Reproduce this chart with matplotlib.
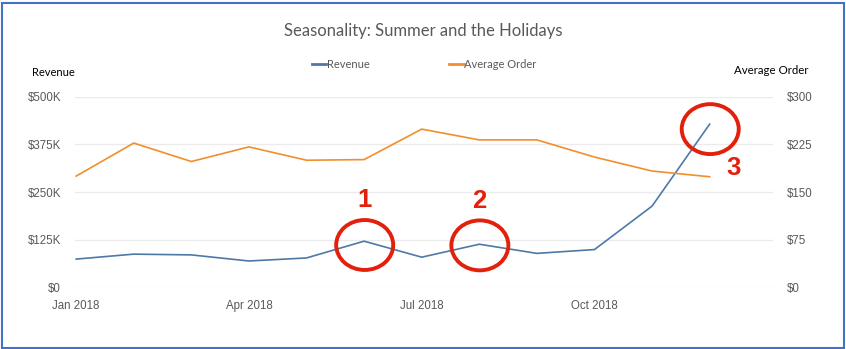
import matplotlib
matplotlib.use("Agg")
import matplotlib.pyplot as plt
from matplotlib.patches import Ellipse, Rectangle
from matplotlib.lines import Line2D

months = ["Jan 2018", "Feb 2018", "Mar 2018", "Apr 2018", "May 2018", "Jun 2018",
          "Jul 2018", "Aug 2018", "Sep 2018", "Oct 2018", "Nov 2018", "Dec 2018"]
revenue_k = [74, 87, 85, 69, 77, 121, 79, 113, 89, 99, 213, 428]
avg_order = [175, 227, 198, 221, 200, 201, 249, 232, 232, 205, 183, 174]

rev_ticks = [0, 125, 250, 375, 500]
rev_tick_labels = ["$0", "$125K", "$250K", "$375K", "$500K"]
order_ticks = [0, 75, 150, 225, 300]
order_tick_labels = ["$0", "$75", "$150", "$225", "$300"]
x_tick_idx = [0, 3, 6, 9]

# highlighted months: (label, month index, revenue level of the ring, label level, label shift)
callouts = [("1", 5, 111, 229, 0.0), ("2", 7, 110, 227, 0.0), ("3", 11, 415, 312, 0.42)]

BLUE = "#4e79a7"
ORANGE = "#f28e2b"
RED = "#e2200c"
GRID = "#ebebeb"
TXT = "#595959"

W, H = 846, 349
fig = plt.figure(figsize=(W / 100, H / 100), dpi=100)
fig.patch.set_facecolor("white")

ax = fig.add_axes([75 / W, 1 - 287.3 / H, (773 - 75) / W, (287.3 - 96.7) / H])
ax2 = ax.twinx()

x = list(range(len(months)))
ax.plot(x, revenue_k, color=BLUE, lw=1.2, solid_joinstyle="miter", zorder=3)
ax2.plot(x, avg_order, color=ORANGE, lw=1.2, solid_joinstyle="miter", zorder=3)

ax.set_xlim(-0.02, 12.1)
ax.set_ylim(0, 500)
ax2.set_ylim(0, 300)

ax.set_yticks(rev_ticks, rev_tick_labels)
ax2.set_yticks(order_ticks, order_tick_labels)
ax.set_xticks(x_tick_idx, [months[i] for i in x_tick_idx])

for a in (ax, ax2):
    for s in a.spines.values():
        s.set_visible(False)
    a.tick_params(length=0, labelsize=8.3, labelcolor=TXT, labelfontfamily="Liberation Sans")
ax.tick_params(axis="y", pad=10)
ax2.tick_params(axis="y", pad=10)
ax.tick_params(axis="x", pad=9)
ax.grid(axis="y", color=GRID, lw=1)
ax.set_axisbelow(True)

# red rings and numbers over the key months
for label, mi, ring_y, num_y, dx in callouts:
    ax2.add_patch(Ellipse((mi + 0.01, ring_y * 300 / 500), width=0.99, height=131 * 300 / 500,
                          fill=False, edgecolor=RED, lw=2.8, zorder=5, clip_on=False))
    ax2.text(mi + dx, num_y * 300 / 500, label, color=RED, fontsize=18.5, fontweight="bold",
             family="Liberation Sans", ha="center", va="center", zorder=6, clip_on=False)

fig.text(0.5, 1 - 31 / H, "Seasonality: Summer and the Holidays", ha="center", va="center",
         fontsize=12, color=TXT, family="Lato")
fig.text(32 / W, 1 - 72 / H, "Revenue", ha="left", va="center", fontsize=8,
         color="black", family="Lato")
fig.text(808 / W, 1 - 70 / H, "Average Order", ha="right", va="center", fontsize=8.3,
         color="black", family="Lato")

handles = [Line2D([], [], color=BLUE, lw=2), Line2D([], [], color=ORANGE, lw=2)]
leg = fig.legend(handles, ["Revenue", "Average Order"], loc="center",
                 bbox_to_anchor=(424 / W, 1 - 64 / H), ncol=2, frameon=False,
                 handlelength=1.3, handletextpad=0.05, columnspacing=7.2,
                 prop={"family": "Lato", "size": 8})
for t in leg.get_texts():
    t.set_color(TXT)

fig.add_artist(Rectangle((1.5 / W, 1.5 / H), (W - 4) / W, (H - 4) / H, transform=fig.transFigure,
                         fill=False, edgecolor="#4472c4", lw=1.5))

fig.savefig("out.png", dpi=100)
